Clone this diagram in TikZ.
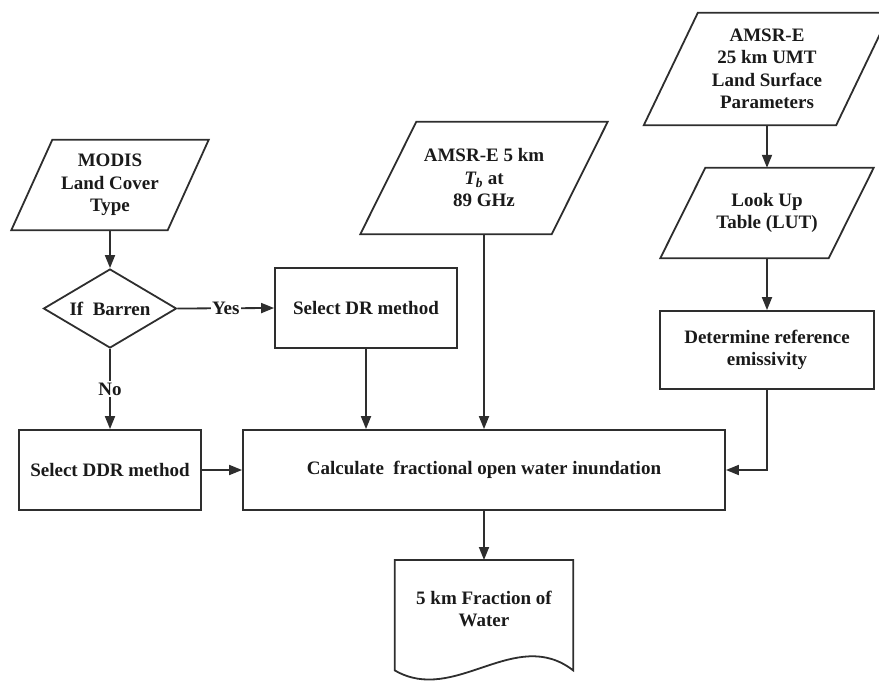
\documentclass[tikz,border=0pt]{standalone}
\usepackage{fontspec}
\setmainfont{Liberation Serif}
\usetikzlibrary{shapes.geometric,arrows.meta,calc}
\definecolor{ln}{HTML}{2E2E2E}
\definecolor{tx}{HTML}{1A1A1A}
\newcommand\drawpgram[2]{\draw[shapeline] ([xshift=#2]#1.north west) -- ([xshift=#2]#1.north east) -- ([xshift=-#2]#1.south east) -- ([xshift=-#2]#1.south west) -- cycle;}
\tikzset{
  shapeline/.style={draw=ln, line width=1.8bp, line join=miter},
  lbl/.style={font=\bfseries\fontsize{19bp}{22.5bp}\selectfont, text=tx, align=center},
  pgram/.style={lbl, inner sep=0pt, draw=none},
  procbox/.style={lbl, shapeline, inner sep=0pt, rectangle},
  arr/.style={draw=ln, line width=1.8bp, -{Triangle[length=13bp,width=10bp]}},
  edgelbl/.style={lbl, fill=white, inner sep=1.5bp}
}
\begin{document}
\begin{tikzpicture}[x=1bp,y=-1bp]
\useasboundingbox (0,0) rectangle (879,681);
% input parallelograms
\node[pgram, minimum width=156bp, minimum height=90bp] (modis) at (110,185) {MODIS\\Land Cover\\Type};
\drawpgram{modis}{20.5bp}
\node[pgram, minimum width=191bp, minimum height=112bp] (amsr5) at (484,178) {AMSR-E 5 km\\{\itshape T\textsubscript{b}} at\\89 GHz};
\drawpgram{amsr5}{28bp}
\node[pgram, minimum width=192bp, minimum height=112bp] (amsr25) at (767,69) {AMSR-E\\25 km UMT\\Land Surface\\Parameters};
\drawpgram{amsr25}{27bp}
\node[pgram, minimum width=168bp, minimum height=90bp] (lut) at (767,213) {Look Up\\Table (LUT)};
\drawpgram{lut}{22.5bp}
% decision
\node[lbl, shapeline, diamond, aspect=1.68, inner sep=0pt, minimum width=133bp, minimum height=79bp] (dia) at (110,308.5) {If\ \ Barren};
% process boxes
\node[procbox, minimum width=182bp, minimum height=80bp] (dr) at (366,308) {Select DR method};
\node[procbox, minimum width=182bp, minimum height=80bp] (ddr) at (110,470) {Select DDR method};
\node[procbox, minimum width=482bp, minimum height=80bp] (main) at (484,470) {Calculate\ \ fractional open water inundation};
\node[procbox, minimum width=214bp, minimum height=78bp] (ref) at (767,350) {Determine reference\\emissivity};
% document
\node[pgram, minimum width=178bp, minimum height=110bp, anchor=north] (doc) at (484,560) {};
\node[lbl] (doctext) at (484,609) {5 km Fraction of\\Water};
\draw[shapeline] (doc.south west) -- (doc.north west) -- (doc.north east) -- (doc.south east)
  .. controls ($(doc.south east)+(-58,-45)$) and ($(doc.south west)+(60,35)$) .. (doc.south west) -- cycle;
% connectors
\draw[arr] (modis.south) -- (dia.north);
\draw[arr] (dia.east) -- node[edgelbl] (yes) {Yes} (dr.west);
\draw[arr] (dia.south) -- node[edgelbl, pos=0.5] (no) {No} (ddr.north);
\draw[arr] (dr.south) -- (dr.south |- main.north);
\draw[arr] (amsr5.south) -- (amsr5.south |- main.north);
\draw[arr] (amsr25.south) -- (amsr25.south |- lut.north);
\draw[arr] (lut.south) -- (lut.south |- ref.north);
\draw[arr] (ref.south) |- (main.east);
\draw[arr] (ddr.east) -- (main.west);
\draw[arr] (main.south) -- (main.south |- doc.north);
\end{tikzpicture}
\end{document}
